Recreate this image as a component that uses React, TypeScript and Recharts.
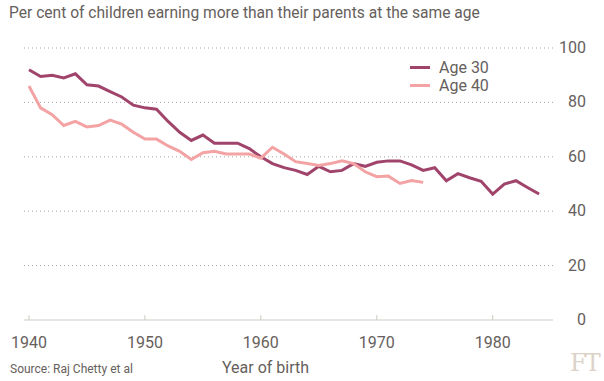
import React from 'react';
import { LineChart, Line, XAxis, YAxis, CartesianGrid, Legend } from 'recharts';

const years = [
  1940, 1941, 1942, 1943, 1944, 1945, 1946, 1947, 1948, 1949,
  1950, 1951, 1952, 1953, 1954, 1955, 1956, 1957, 1958, 1959,
  1960, 1961, 1962, 1963, 1964, 1965, 1966, 1967, 1968, 1969,
  1970, 1971, 1972, 1973, 1974, 1975, 1976, 1977, 1978, 1979,
  1980, 1981, 1982, 1983, 1984,
];

const age30 = [
  92, 89.5, 90, 89, 90.5, 86.5, 86, 84, 82, 79,
  78, 77.5, 73, 69, 66, 68, 65, 65, 65, 63,
  60, 57.5, 56, 55, 53.5, 56.5, 54.5, 55, 57.5, 56.5,
  58, 58.5, 58.5, 57, 55, 56, 51.2, 53.8, 52.3, 51,
  46.3, 50, 51.2, 48.7, 46.3,
];

const age40 = [
  86, 78, 75.5, 71.5, 73, 71, 71.5, 73.5, 72, 69,
  66.5, 66.5, 64, 62, 59, 61.5, 62, 61, 61, 61,
  59.5, 63.5, 61, 58.2, 57.5, 56.8, 57.5, 58.5, 57.5, 54.5,
  52.7, 52.9, 50.2, 51.3, 50.6,
];

const yTicks = [0, 20, 40, 60, 80, 100];
const xTicks = [1940, 1950, 1960, 1970, 1980];

const data = years.map((year, i) => ({
  year,
  age30: age30[i],
  age40: i < age40.length ? age40[i] : null,
}));

const FONT = 'Roboto, "Open Sans", sans-serif';
const TEXT = '#66605c';
const DARK = '#a0446b';
const LIGHT = '#f3a3a4';

const YTick = (props: any) => {
  const { y, payload } = props;
  return (
    <text x={586} y={y} dy={5} textAnchor="end" fontSize={16} fill={TEXT} fontFamily={FONT}>
      {payload.value}
    </text>
  );
};

const LegendBox = () => (
  <div style={{ fontFamily: FONT, fontSize: 16, color: TEXT }}>
    {[
      { name: 'Age 30', color: DARK },
      { name: 'Age 40', color: LIGHT },
    ].map((it) => (
      <div key={it.name} style={{ display: 'flex', alignItems: 'center', height: 18 }}>
        <span style={{ display: 'inline-block', width: 20, height: 3, background: it.color, marginRight: 9 }} />
        {it.name}
      </div>
    ))}
  </div>
);

export default function App() {
  return (
    <div style={{ position: 'absolute', left: 0, top: 0, width: 604, height: 381, background: '#fff' }}>
      <div
        style={{
          position: 'absolute', left: 9, top: 4, fontFamily: FONT, fontSize: 15.6, color: TEXT,
          whiteSpace: 'nowrap',
        }}
      >
        Per cent of children earning more than their parents at the same age
      </div>
      <LineChart
        width={604}
        height={381}
        data={data}
        margin={{ top: 48, right: 0, bottom: 0, left: 24 }}
      >
        <CartesianGrid
          horizontal
          vertical={false}
          strokeDasharray="1 3"
          stroke="#a9a39e"
          horizontalValues={[20, 40, 60, 80, 100]}
        />
        <XAxis
          dataKey="year"
          type="number"
          domain={[1939.57, 1985.2]}
          ticks={xTicks}
          height={61}
          axisLine={{ stroke: '#cfcac5' }}
          tickLine={{ stroke: '#cfcac5' }}
          tickSize={-5}
          tickMargin={22}
          tick={{ fontSize: 16, fill: TEXT, fontFamily: FONT }}
          label={{ value: 'Year of birth', position: 'insideBottom', offset: 8, dx: -23, fontSize: 16, fill: TEXT, fontFamily: FONT }}
        />
        <YAxis
          orientation="right"
          domain={[0, 100]}
          ticks={yTicks}
          width={51}
          axisLine={false}
          tickLine={false}
          tick={<YTick />}
        />
        <Legend
          layout="horizontal"
          verticalAlign="middle"
          align="center"
          content={<LegendBox />}
          wrapperStyle={{ left: 410, top: 58, width: 120 }}
        />
        <Line
          type="linear"
          dataKey="age30"
          name="Age 30"
          stroke={DARK}
          strokeWidth={3}
          dot={false}
          isAnimationActive={false}
        />
        <Line
          type="linear"
          dataKey="age40"
          name="Age 40"
          stroke={LIGHT}
          strokeWidth={3}
          dot={false}
          isAnimationActive={false}
        />
      </LineChart>
      <div style={{ position: 'absolute', left: 10, top: 362, fontFamily: FONT, fontSize: 12, color: TEXT }}>
        Source: Raj Chetty et al
      </div>
      <div
        style={{
          position: 'absolute', left: 570, top: 349, fontFamily: '"DejaVu Serif", serif', fontSize: 24,
          color: '#ddd2c8', letterSpacing: -2,
        }}
      >
        FT
      </div>
    </div>
  );
}
